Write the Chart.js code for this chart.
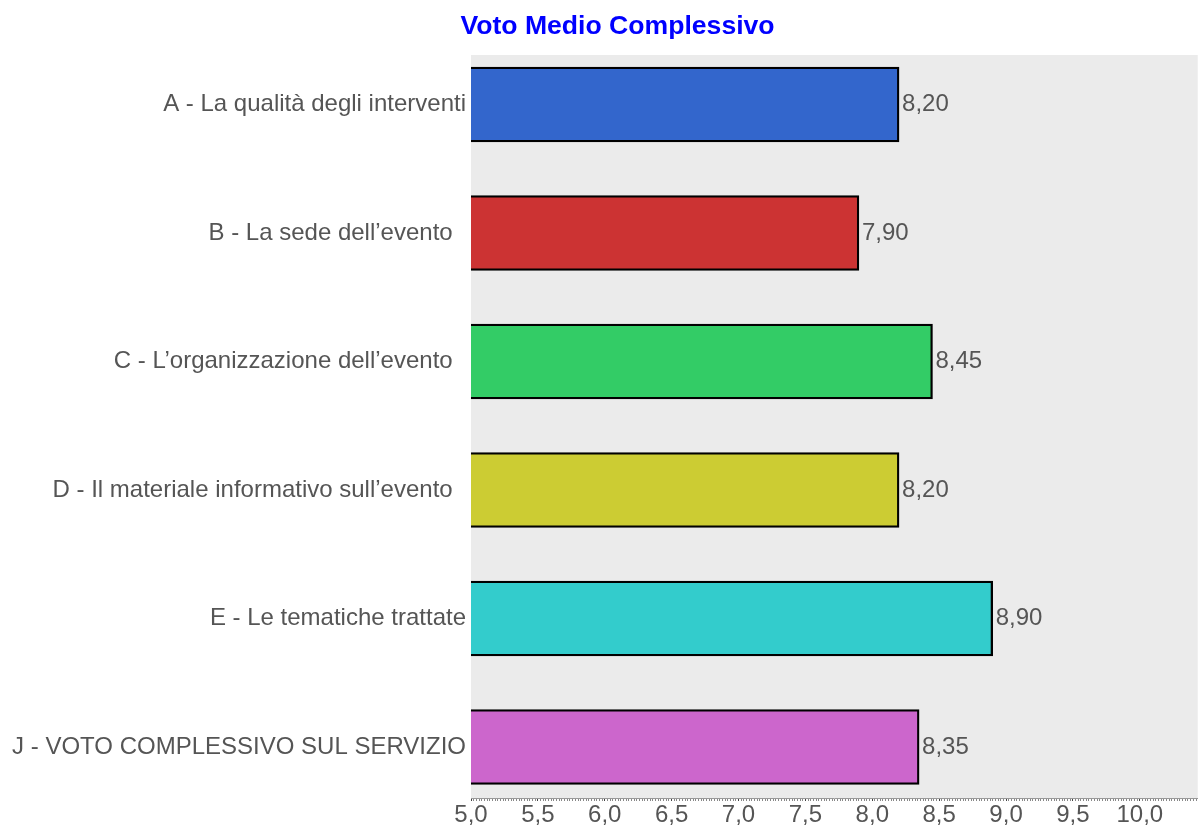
<!DOCTYPE html>
<html>
<head>
<meta charset="utf-8">
<script src="https://cdn.jsdelivr.net/npm/chart.js@4.4.1/dist/chart.umd.min.js"></script>
<style>
  html, body { margin: 0; padding: 0; background: #ffffff; }
  #wrap { width: 1198px; height: 827px; }
</style>
</head>
<body>
<div id="wrap"><canvas id="c" width="1198" height="827"></canvas></div>
<script>
const categories = [
  "A - La qualità degli interventi",
  "B - La sede dell\u2019evento  ",
  "C - L\u2019organizzazione dell\u2019evento  ",
  "D - Il materiale informativo sull\u2019evento  ",
  "E - Le tematiche trattate",
  "J - VOTO COMPLESSIVO SUL SERVIZIO"
];
const values = [8.20, 7.90, 8.45, 8.20, 8.90, 8.35];
const barColors = ["#3366CC", "#CC3333", "#33CC66", "#CCCC33", "#33CCCC", "#CC66CC"];
const xMin = 5.0;
const xMax = 10.433;
const xMajorStep = 0.5;
const xMinorStep = 0.02;
const chartTitle = "Voto Medio Complessivo";

const FONT = "'Liberation Sans', Arial, sans-serif";
const TEXT_GRAY = "#555555";

const plotBg = {
  id: 'plotBg',
  beforeDraw(chart) {
    const {ctx, chartArea: a} = chart;
    ctx.save();
    ctx.fillStyle = '#EBEBEB';
    ctx.fillRect(a.left, a.top, a.right - a.left, a.bottom - a.top);
    ctx.restore();
  }
};

const titleText = {
  id: 'titleText',
  afterDraw(chart) {
    const {ctx} = chart;
    ctx.save();
    ctx.font = 'bold 26.6px ' + FONT;
    ctx.fillStyle = '#0000FF';
    ctx.textAlign = 'center';
    ctx.textBaseline = 'alphabetic';
    ctx.fillText(chartTitle, 617.5, 34);
    ctx.restore();
  }
};

const valueLabels = {
  id: 'valueLabels',
  afterDatasetsDraw(chart) {
    const {ctx} = chart;
    const meta = chart.getDatasetMeta(0);
    ctx.save();
    ctx.font = '24px ' + FONT;
    ctx.fillStyle = TEXT_GRAY;
    ctx.textAlign = 'left';
    ctx.textBaseline = 'middle';
    meta.data.forEach((bar, i) => {
      ctx.fillText(values[i].toFixed(2).replace('.', ','), bar.x + 3, bar.y);
    });
    ctx.restore();
  }
};

const isMajor = v => Math.abs(v / xMajorStep - Math.round(v / xMajorStep)) < 1e-6;

new Chart(document.getElementById('c'), {
  type: 'bar',
  data: {
    datasets: [{
      data: values.map((v, i) => ({x: v, y: i})),
      backgroundColor: barColors,
      borderColor: '#000000',
      borderWidth: 2.3,
      barThickness: 75
    }]
  },
  options: {
    indexAxis: 'y',
    responsive: false,
    animation: false,
    layout: { padding: { left: 0, right: 0, top: 55, bottom: 0 } },
    plugins: {
      legend: { display: false },
      tooltip: { enabled: false },
      title: { display: false }
    },
    scales: {
      x: {
        type: 'linear',
        position: 'bottom',
        min: xMin,
        max: xMax,
        afterBuildTicks(scale) {
          const n = Math.floor((xMax - xMin) / xMinorStep + 1e-6);
          const t = [];
          for (let i = 0; i <= n; i++) t.push({value: Math.round((xMin + i * xMinorStep) * 1000) / 1000});
          scale.ticks = t;
        },
        afterFit(scale) { scale.height = 29; },
        grid: {
          drawOnChartArea: false,
          drawTicks: true,
          tickLength: 3,
          tickColor: ctx => (ctx.tick && isMajor(ctx.tick.value)) ? '#444444' : '#888888',
          tickWidth: 1
        },
        border: { display: true, color: '#999999', width: 1 },
        ticks: {
          autoSkip: false,
          maxRotation: 0,
          padding: 2,
          color: TEXT_GRAY,
          font: { family: FONT, size: 24, lineHeight: 1 },
          callback: v => isMajor(v) ? v.toFixed(1).replace('.', ',') : ''
        }
      },
      y: {
        type: 'linear',
        reverse: true,
        offset: false,
        min: -0.385,
        max: 5.397,
        afterBuildTicks(scale) {
          scale.ticks = categories.map((_, i) => ({value: i}));
        },
        afterFit(scale) { scale.width = 471; },
        grid: { display: false, drawTicks: false, offset: false },
        border: { display: false },
        ticks: {
          autoSkip: false,
          padding: 5,
          color: TEXT_GRAY,
          font: { family: FONT, size: 24 },
          callback: v => categories[v]
        }
      }
    }
  },
  plugins: [plotBg, valueLabels, titleText]
});
</script>
</body>
</html>
